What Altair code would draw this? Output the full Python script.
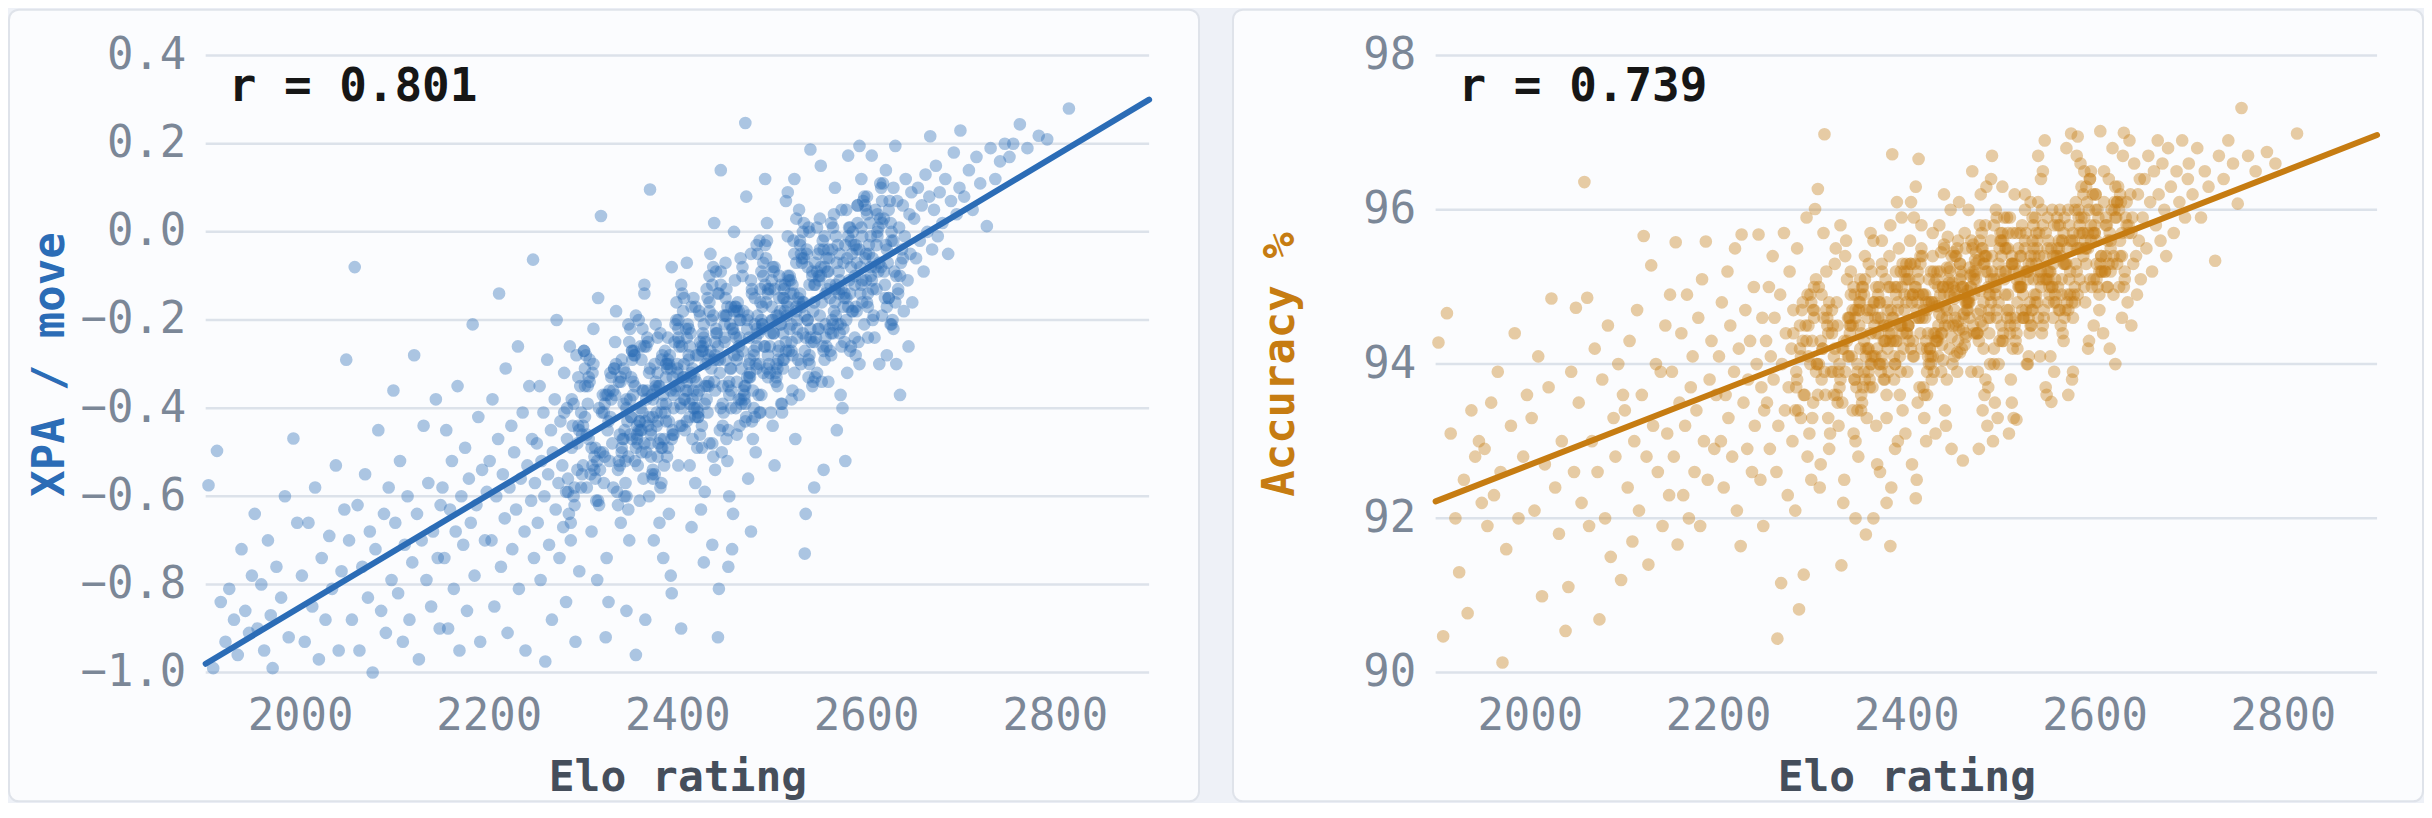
import altair as alt
import pandas as pd

# ---- data (Elo, XPA per move, accuracy %) ----
ELO = [
    1903, 1908, 1912, 1916, 1921, 1925, 1930, 1934, 1938, 1942, 1946, 1949,
    1952, 1955, 1959, 1962, 1966, 1969, 1971, 1975, 1980, 1984, 1988, 1993, 1997,
    2002, 2005, 2009, 2013, 2016, 2020, 2023, 2027, 2031, 2034, 2038, 2041, 2044, 2047, 2049,
    2052, 2055, 2058, 2061, 2063, 2066, 2069, 2072, 2074, 2077, 2080, 2083, 2086, 2089, 2091, 2094, 2097, 2099,
    2101, 2104, 2106, 2109, 2111, 2114, 2116, 2119, 2121, 2124, 2126, 2129, 2131, 2134, 2136, 2139, 2141, 2144, 2146, 2148, 2149,
    2151, 2153, 2155, 2157, 2159, 2161, 2163, 2165, 2167, 2169, 2171, 2173, 2175, 2177, 2179, 2181, 2183, 2185, 2187, 2189, 2191, 2193, 2196, 2198,
    2201, 2203, 2204, 2206, 2208, 2210, 2211, 2213, 2215, 2217, 2218, 2220, 2222, 2224, 2225, 2227, 2229, 2231, 2232, 2234, 2236, 2238, 2239, 2241, 2243, 2245, 2246, 2247, 2248, 2249,
    2251, 2252, 2254, 2255, 2256, 2258, 2259, 2260, 2262, 2263, 2264, 2266, 2267, 2268, 2270, 2271, 2272, 2274, 2275, 2276,
    2278, 2279, 2280, 2282, 2283, 2284, 2286, 2287, 2288, 2290, 2291, 2292, 2294, 2295, 2296, 2297, 2298, 2299,
    2300, 2307, 2314, 2321, 2328, 2335, 2342, 2349, 2306, 2313, 2320, 2327, 2334, 2341, 2348, 2305, 2312, 2319, 2326, 2333,
    2340, 2347, 2304, 2311, 2318, 2325, 2332, 2339, 2346, 2303, 2310, 2317, 2324, 2331, 2338, 2345, 2302, 2309, 2316, 2323,
    2330, 2337, 2344, 2301, 2308, 2315, 2322, 2329, 2336, 2343, 2302, 2346,
    2350, 2363, 2376, 2389, 2352, 2365, 2378, 2391, 2354, 2367, 2380, 2393, 2356, 2369, 2382, 2395, 2358, 2371, 2384, 2397,
    2360, 2373, 2386, 2399, 2362, 2375, 2388, 2351, 2364, 2377, 2390, 2353, 2366, 2379, 2392, 2355, 2368, 2381, 2394, 2357,
    2370, 2383, 2396, 2359, 2372, 2385, 2398, 2361, 2374, 2387, 2352, 2356, 2361, 2365, 2370, 2374, 2379, 2383, 2388, 2394,
    2400, 2417, 2434, 2401, 2418, 2435, 2402, 2419, 2436, 2403, 2420, 2437, 2404, 2421, 2438, 2405, 2422, 2439, 2406, 2423,
    2440, 2407, 2424, 2441, 2408, 2425, 2442, 2409, 2426, 2443, 2410, 2427, 2444, 2411, 2428, 2445, 2412, 2429, 2446, 2413,
    2430, 2447, 2414, 2431, 2448, 2415, 2432, 2449, 2416, 2433, 2401, 2404, 2407, 2410, 2413, 2416, 2419, 2422, 2425, 2428,
    2431, 2434, 2437, 2440, 2443, 2446,
    2450, 2469, 2488, 2457, 2476, 2495, 2464, 2483, 2452, 2471, 2490, 2459, 2478, 2497, 2466, 2485, 2454, 2473, 2492, 2461,
    2480, 2499, 2468, 2487, 2456, 2475, 2494, 2463, 2482, 2451, 2470, 2489, 2458, 2477, 2496, 2465, 2484, 2453, 2472, 2491,
    2460, 2479, 2498, 2467, 2486, 2455, 2474, 2493, 2462, 2481, 2451, 2454, 2457, 2460, 2463, 2466, 2469, 2472, 2475, 2478,
    2481, 2484, 2487, 2490, 2493, 2496,
    2500, 2523, 2546, 2519, 2542, 2515, 2538, 2511, 2534, 2507, 2530, 2503, 2526, 2549, 2522, 2545, 2518, 2541, 2514, 2537,
    2510, 2533, 2506, 2529, 2502, 2525, 2548, 2521, 2544, 2517, 2540, 2513, 2536, 2509, 2532, 2505, 2528, 2501, 2524, 2547,
    2520, 2543, 2516, 2539, 2512, 2535, 2508, 2531, 2504, 2527, 2503, 2508, 2512, 2517, 2521, 2526, 2530, 2535, 2540, 2545,
    2550, 2579, 2558, 2587, 2566, 2595, 2574, 2553, 2582, 2561, 2590, 2569, 2598, 2577, 2556, 2585, 2564, 2593, 2572, 2551,
    2580, 2559, 2588, 2567, 2596, 2575, 2554, 2583, 2562, 2591, 2570, 2599, 2578, 2557, 2586, 2565, 2594, 2573, 2552, 2581,
    2560, 2589, 2568, 2597, 2576, 2555, 2584, 2563, 2592, 2571, 2556, 2568, 2581, 2593,
    2600, 2601, 2602, 2604, 2605, 2606, 2607, 2609, 2610, 2611, 2612, 2614, 2615, 2616, 2617, 2619, 2620, 2621, 2622, 2624,
    2625, 2626, 2627, 2629, 2630, 2631, 2632, 2634, 2635, 2636, 2637, 2639, 2640, 2641, 2642, 2644, 2645, 2646, 2647, 2648,
    2649, 2603,
    2651, 2653, 2655, 2657, 2659, 2661, 2663, 2665, 2667, 2668, 2670, 2672, 2674, 2676, 2678, 2681, 2684, 2687, 2690, 2693, 2696, 2699,
    2700, 2704, 2709, 2713, 2717, 2721, 2728, 2732, 2737, 2742, 2747,
    2752, 2756, 2763, 2771, 2783, 2792,
    2815,
]

XPA = [
    -0.575, -0.99, -0.497, -0.84, -0.93, -0.81, -0.88, -0.96, -0.72, -0.86, -0.91, -0.78,
    -0.64, -0.90, -0.80, -0.95, -0.70, -0.87, -0.99, -0.76, -0.83, -0.60, -0.92, -0.469, -0.66,
    -0.78, -0.93, -0.66, -0.85, -0.58, -0.97, -0.74, -0.88, -0.69, -0.81, -0.53, -0.95, -0.77, -0.63, -0.29,
    -0.70, -0.88, -0.08, -0.62, -0.95, -0.76, -0.55, -0.83, -0.68, -1.0, -0.72, -0.45, -0.86, -0.64, -0.91, -0.58, -0.79, -0.36,
    -0.66, -0.82, -0.52, -0.93, -0.71, -0.60, -0.88, -0.75, -0.28, -0.64, -0.97, -0.70, -0.44, -0.79, -0.57, -0.85, -0.68, -0.38, -0.74, -0.90, -0.62,
    -0.58, -0.74, -0.45, -0.90, -0.63, -0.52, -0.81, -0.68, -0.35, -0.95, -0.60, -0.71, -0.49, -0.86, -0.56, -0.66, -0.21, -0.78, -0.62, -0.42, -0.93, -0.54, -0.70, -0.59,
    -0.52, -0.70, -0.38, -0.85, -0.60, -0.47, -0.14, -0.76, -0.55, -0.65, -0.31, -0.91, -0.58, -0.44, -0.72, -0.50, -0.63, -0.26, -0.81, -0.56, -0.41, -0.68, -0.95, -0.53, -0.35, -0.61, -0.47, -0.063, -0.74, -0.57,
    -0.48, -0.66, -0.35, -0.79, -0.52, -0.41, -0.60, -0.975, -0.29, -0.55, -0.71, -0.45, -0.88, -0.50, -0.38, -0.63, -0.20, -0.57, -0.74, -0.43,
    -0.53, -0.67, -0.32, -0.84, -0.47, -0.59, -0.26, -0.70, -0.49, -0.39, -0.62, -0.93, -0.54, -0.44, -0.77, -0.35, -0.58, -0.46,
    -0.44, -0.29, -0.61, -0.37, -0.52, -0.18, -0.47, -0.70, -0.33, -0.56, -0.41, -0.84, -0.25, -0.49, -0.63, -0.39, -0.54, 0.036, -0.45, -0.31,
    -0.66, -0.43, -0.58, -0.22, -0.50, -0.74, -0.36, -0.46, -0.60, -0.28, -0.53, -0.40, -0.92, -0.48, -0.34, -0.57, -0.42, -0.68, -0.15, -0.51,
    -0.38, -0.62, -0.45, -0.27, -0.55, -0.79, -0.41, -0.32, -0.59, -0.47, -0.35, -0.86,
    -0.38, -0.22, -0.55, -0.31, -0.47, -0.12, -0.41, -0.64, -0.27, -0.50, -0.35, -0.78, -0.19, -0.44, -0.58, -0.33, -0.48, 0.096, -0.39, -0.25,
    -0.61, -0.37, -0.53, -0.16, -0.45, -0.70, -0.30, -0.42, -0.56, -0.21, -0.49, -0.34, -0.88, -0.43, -0.28, -0.52, -0.36, -0.66, -0.08, -0.46,
    -0.32, -0.57, -0.40, -0.20, -0.51, -0.74, -0.36, -0.26, -0.54, -0.41, -0.29, -0.96, -0.45, -0.14, -0.60, -0.38, -0.24, -0.49, -0.33, -0.82,
    -0.31, -0.15, -0.48, -0.24, -0.40, -0.05, -0.35, -0.57, -0.20, -0.44, -0.28, -0.71, -0.12, -0.37, -0.51, -0.26, -0.42, 0.02, -0.33, -0.18,
    -0.54, -0.30, -0.46, -0.09, -0.38, -0.63, -0.23, -0.36, -0.49, -0.14, -0.43, -0.27, -0.81, -0.36, -0.21, -0.45, -0.29, -0.59, 0.14, -0.39,
    -0.25, -0.50, -0.33, -0.13, -0.44, -0.67, -0.29, -0.19, -0.47, -0.34, -0.22, -0.90, -0.38, -0.07, -0.53, -0.31, -0.17, -0.42, -0.26, -0.75,
    -0.35, -0.10, -0.48, -0.28, -0.92, -0.40,
    -0.24, -0.08, -0.41, -0.17, -0.33, 0.02, -0.28, -0.50, -0.13, -0.37, -0.21, -0.64, -0.05, -0.30, -0.44, -0.19, -0.35, 0.08, -0.26, -0.11,
    -0.47, -0.23, -0.39, -0.02, -0.31, -0.56, -0.16, -0.29, -0.42, -0.07, -0.36, -0.20, -0.72, -0.29, -0.14, -0.38, -0.22, -0.52, 0.247, -0.32,
    -0.18, -0.43, -0.26, -0.06, -0.37, -0.60, -0.22, -0.12, -0.40, -0.27, -0.15, -0.76, -0.31, 0.00, -0.46, -0.24, -0.10, -0.35, -0.19, -0.68,
    -0.28, -0.03, -0.41, -0.21, 0.12, -0.33,
    -0.17, -0.02, -0.33, -0.10, -0.25, 0.07, -0.20, -0.41, -0.06, -0.29, -0.14, -0.53, 0.03, -0.22, -0.36, -0.12, -0.27, 0.187, -0.18, -0.04,
    -0.39, -0.16, -0.31, 0.05, -0.23, -0.47, -0.09, -0.21, -0.34, -0.01, -0.28, -0.13, -0.64, -0.21, -0.07, -0.30, -0.15, -0.44, 0.12, -0.24,
    -0.11, -0.35, -0.19, 0.01, -0.29, -0.73, -0.15, -0.05, -0.32, -0.20, -0.08, -0.26, -0.23, 0.09, -0.38, -0.17, -0.03, -0.27, -0.12, -0.58,
    -0.10, 0.05, -0.26, -0.03, -0.18, 0.12, -0.13, -0.34, 0.01, -0.22, -0.07, -0.45, 0.08, -0.15, -0.29, -0.05, -0.20, 0.195, -0.11, 0.03,
    -0.32, -0.09, -0.24, 0.10, -0.16, -0.40, -0.02, -0.14, -0.27, 0.06, -0.21, -0.06, -0.52, -0.14, 0.00, -0.23, -0.08, -0.37, 0.15, -0.17,
    -0.04, -0.28, -0.12, 0.07, -0.22, -0.54, -0.08, 0.02, -0.25, -0.13, -0.01, -0.19, 0.173, -0.30,
    -0.05, 0.08, -0.17, 0.02, -0.10, 0.173, -0.06, -0.24, 0.05, -0.13, 0.00, -0.30, 0.11, -0.08, -0.19, 0.03, -0.12, 0.14, -0.04, -0.15,
    0.07, -0.21, -0.02, 0.10, -0.09, 0.195, -0.30, -0.14, 0.01, -0.37, -0.07, 0.06, -0.18, -0.01, 0.12, -0.11, -0.26, 0.04, -0.05, 0.09,
    -0.16, -0.03,
    0.03, -0.06, 0.10, -0.02, 0.06, -0.09, 0.13, 0.00, 0.08, 0.217, -0.04, 0.05, 0.15, -0.01, 0.09, 0.02, 0.12, -0.05, 0.07, 0.18, 0.04, 0.10,
    0.23, 0.08, 0.14, 0.05, 0.17, 0.11, 0.013, 0.19, 0.12, 0.16, 0.20,
    0.17, 0.20, 0.244, 0.19, 0.218, 0.21,
    0.28,
]

ACC = [
    94.28, 90.47, 94.66, 93.1, 92.0, 91.3, 92.5, 90.77, 93.4, 92.8, 93.0, 92.2,
    92.9, 91.9, 93.5, 92.3, 93.9, 92.6, 90.13, 91.6, 93.2, 94.4, 92.0, 92.8, 93.6,
    93.3, 92.1, 94.1, 90.99, 92.7, 93.7, 94.85, 92.4, 91.8, 93.0, 90.54, 91.11, 93.9, 92.6, 94.73,
    93.5, 92.2, 96.36, 94.86, 91.9, 93.0, 94.2, 92.6, 90.69, 93.8, 92.0, 94.5, 91.5, 93.3, 92.8, 94.0, 91.2, 93.6,
    93.4, 92.4, 94.3, 91.7, 93.0, 94.7, 92.1, 93.6, 95.66, 92.8, 91.4, 95.28, 93.2, 94.0, 92.6, 93.9, 91.9, 94.5, 93.1, 92.3, 94.9,
    93.9, 92.8, 95.58, 91.66, 93.5, 94.4, 92.3, 93.2, 94.9, 92.0, 93.7, 94.1, 92.6, 93.4, 94.6, 91.9, 95.1, 93.0, 95.59, 92.5, 93.8, 94.3, 92.9, 93.6,
    94.1, 93.0, 94.8, 92.4, 93.6, 95.2, 93.3, 94.5, 92.8, 93.9, 95.5, 92.1, 94.2, 91.64, 95.68, 93.5, 94.7, 92.9, 93.8, 94.3, 92.6, 95.0, 93.2, 94.0, 95.68, 92.5, 93.7, 94.6, 91.9, 93.4,
    94.3, 93.5, 95.0, 92.9, 94.1, 95.4, 93.8, 94.6, 92.6, 90.44, 93.2, 94.9, 91.16, 94.0, 95.7, 93.4, 94.4, 92.3, 93.7, 95.2,
    94.2, 93.0, 94.7, 92.1, 93.9, 95.5, 90.82, 94.5, 93.3, 94.8, 91.27, 93.6, 95.9, 92.8, 94.1, 93.1, 94.9, 92.5,
    94.3, 95.0, 93.6, 94.7, 93.2, 95.4, 94.1, 92.8, 96.27, 96.98, 93.9, 94.5, 92.5, 95.2, 93.4, 94.0, 95.7, 93.1, 94.8, 92.2,
    94.4, 93.7, 95.1, 94.2, 92.9, 95.5, 93.5, 94.6, 93.0, 96.01, 94.9, 93.3, 95.3, 91.39, 94.1, 93.8, 95.0, 92.7, 94.5, 93.6,
    95.8, 94.3, 93.1, 94.7, 92.4, 95.2, 93.9, 94.0, 95.6, 93.4, 94.6, 92.0,
    94.5, 95.2, 93.8, 94.9, 93.4, 95.6, 94.3, 93.0, 95.0, 94.1, 94.7, 93.6, 95.4, 92.7, 94.4, 95.9, 93.3, 94.8, 92.4, 94.2,
    95.3, 93.9, 94.6, 93.1, 95.7, 94.0, 92.9, 95.1, 93.7, 94.5, 96.1, 93.5, 94.8, 92.2, 95.5, 94.3, 93.2, 95.0, 93.9, 91.79,
    94.6, 95.8, 93.4, 94.2, 92.6, 96.72, 94.9, 93.8, 95.3, 94.1, 93.6, 95.1, 94.7, 92.0, 94.4, 95.6, 93.3, 91.64, 94.0, 95.2,
    94.8, 95.4, 94.1, 95.1, 93.7, 95.8, 94.5, 93.3, 95.2, 94.3, 94.9, 93.9, 95.6, 93.0, 94.6, 96.1, 93.6, 95.0, 92.7, 94.4,
    95.5, 94.1, 94.8, 93.4, 95.9, 94.2, 93.2, 95.3, 94.0, 94.7, 96.3, 93.8, 95.0, 92.5, 95.7, 94.5, 93.5, 95.2, 94.2, 96.66,
    94.8, 96.0, 93.7, 94.4, 92.9, 95.4, 95.1, 94.0, 95.5, 94.3, 93.9, 95.3, 94.9, 92.26, 94.6, 95.8, 93.6, 94.7, 94.2, 95.4,
    93.1, 95.0, 94.4, 96.2, 93.8, 94.9,
    95.0, 95.6, 94.4, 95.3, 93.9, 96.0, 94.7, 93.6, 95.4, 94.5, 95.1, 94.2, 95.8, 93.3, 94.8, 96.3, 93.9, 95.2, 93.0, 94.6,
    95.7, 94.3, 95.0, 93.7, 96.1, 94.4, 93.5, 95.5, 94.2, 94.9, 96.5, 94.0, 95.2, 92.9, 95.9, 94.7, 93.8, 95.4, 94.4, 96.7,
    95.0, 96.2, 94.0, 94.6, 93.2, 95.6, 95.3, 94.2, 95.7, 94.5, 94.1, 95.5, 95.1, 92.75, 94.8, 96.0, 93.9, 94.9, 94.4, 95.6,
    93.4, 95.2, 94.6, 96.4, 94.0, 95.1,
    95.2, 95.8, 94.6, 95.5, 94.1, 96.2, 94.9, 93.8, 95.6, 94.7, 95.3, 94.4, 96.0, 93.6, 95.0, 96.5, 94.2, 95.4, 93.3, 94.8,
    95.9, 94.5, 95.2, 94.0, 96.3, 94.6, 93.7, 95.7, 94.4, 95.1, 96.7, 94.2, 95.4, 93.1, 96.1, 94.9, 94.0, 95.6, 94.6, 96.9,
    95.2, 96.4, 94.3, 94.8, 93.5, 95.8, 95.5, 94.4, 95.9, 94.7, 94.3, 95.7, 95.3, 93.28, 95.0, 96.2, 94.1, 95.1, 94.6, 95.8,
    95.5, 96.0, 94.9, 95.7, 94.4, 96.4, 95.2, 94.1, 96.95, 95.0, 95.6, 94.7, 96.2, 93.9, 95.3, 96.6, 94.5, 95.7, 93.6, 95.1,
    96.1, 94.8, 95.4, 94.3, 96.5, 96.99, 93.51, 95.9, 94.7, 95.3, 96.8, 94.5, 95.6, 93.9, 96.3, 95.1, 94.3, 95.8, 94.9, 96.7,
    95.4, 96.5, 94.6, 95.0, 93.8, 96.0, 95.7, 94.7, 96.1, 94.9, 94.6, 95.9, 95.5, 94.2,
    95.7, 96.2, 95.1, 95.9, 94.7, 97.02, 95.4, 94.4, 96.5, 95.2, 95.8, 95.0, 96.4, 94.2, 95.5, 96.8, 94.9, 96.0, 94.0, 95.3,
    96.3, 95.0, 95.6, 94.6, 96.7, 97.0, 95.2, 96.1, 94.8, 95.7, 96.9, 94.5, 95.9, 95.3, 96.6, 95.4, 94.9, 96.2, 95.6, 96.4,
    95.1, 96.0,
    95.9, 96.4, 95.5, 96.7, 96.1, 95.2, 96.5, 95.8, 96.9, 96.2, 95.6, 96.6, 96.0, 95.4, 96.8, 96.3, 95.7, 96.5, 96.1, 96.9, 95.9, 96.4,
    96.6, 96.2, 96.8, 95.9, 96.5, 96.3, 95.34, 96.7, 96.4, 96.9, 96.6,
    96.08, 97.32, 96.7, 96.5, 96.75, 96.6,
    96.99,
]

# extra players in the dense middle of the cloud
CORE_ELO = [
    2280, 2291, 2302, 2313, 2324, 2285, 2296, 2307, 2318, 2329, 2290, 2301, 2312, 2323, 2284, 2295, 2306, 2317, 2328, 2289,
    2300, 2311, 2322, 2283, 2294, 2305, 2316, 2327, 2288, 2299, 2310, 2321, 2282, 2293, 2304, 2315, 2326, 2287, 2298, 2309,
    2330, 2341, 2352, 2363, 2374, 2335, 2346, 2357, 2368, 2379, 2340, 2351, 2362, 2373, 2334, 2345, 2356, 2367, 2378, 2339,
    2350, 2361, 2372, 2333, 2344, 2355, 2366, 2377, 2338, 2349, 2360, 2371, 2332, 2343, 2354, 2365, 2376, 2337, 2348, 2359,
    2380, 2391, 2402, 2413, 2424, 2385, 2396, 2407, 2418, 2429, 2390, 2401, 2412, 2423, 2384, 2395, 2406, 2417, 2428, 2389,
    2400, 2411, 2422, 2383, 2394, 2405, 2416, 2427, 2388, 2399, 2410, 2421, 2382, 2393, 2404, 2415, 2426, 2387, 2398, 2409,
    2430, 2441, 2452, 2463, 2474, 2435, 2446, 2457, 2468, 2479, 2440, 2451, 2462, 2473, 2434, 2445, 2456, 2467, 2478, 2439,
    2450, 2461, 2472, 2433, 2444, 2455, 2466, 2477, 2438, 2449, 2460, 2471, 2432, 2443, 2454, 2465, 2476, 2437, 2448, 2459,
    2480, 2491, 2502, 2513, 2524, 2485, 2496, 2507, 2518, 2529, 2490, 2501, 2512, 2523, 2484, 2495, 2506, 2517, 2528, 2489,
    2500, 2511, 2522, 2483, 2494, 2505, 2516, 2527, 2488, 2499, 2510, 2521, 2482, 2493, 2504, 2515, 2526, 2487, 2498, 2509,
    2530, 2541, 2552, 2563, 2574, 2535, 2546, 2557, 2568, 2579, 2540, 2551, 2562, 2573, 2534, 2545, 2556, 2567, 2578, 2539,
    2550, 2561, 2572, 2533, 2544, 2555, 2566, 2577, 2538, 2549, 2560, 2571, 2532, 2543, 2554, 2565, 2576, 2537, 2548, 2559,
    2580, 2591, 2602, 2613, 2624, 2585, 2596, 2607, 2618, 2629, 2590, 2601, 2612, 2623, 2584, 2595, 2606, 2617, 2628, 2589,
    2600, 2611, 2622, 2583, 2594, 2605, 2616, 2627, 2588, 2599,
    2340, 2371, 2352, 2383, 2364, 2345, 2376, 2357, 2388, 2369, 2350, 2381, 2362, 2343, 2374, 2355, 2386, 2367, 2348, 2379,
    2360, 2341, 2372, 2353, 2384, 2365, 2346, 2377, 2358, 2389, 2370, 2351, 2382, 2363,
    2390, 2421, 2402, 2433, 2414, 2395, 2426, 2407, 2438, 2419, 2400, 2431, 2412, 2393, 2424, 2405, 2436, 2417, 2398, 2429,
    2410, 2391, 2422, 2403, 2434, 2415, 2396, 2427, 2408, 2439, 2420, 2401, 2432, 2413,
    2440, 2471, 2452, 2483, 2464, 2445, 2476, 2457, 2488, 2469, 2450, 2481, 2462, 2443, 2474, 2455, 2486, 2467, 2448, 2479,
    2460, 2441, 2472, 2453, 2484, 2465, 2446, 2477, 2458, 2489, 2470, 2451, 2482, 2463,
    2490, 2521, 2502, 2533, 2514, 2495, 2526, 2507, 2538, 2519, 2500, 2531, 2512, 2493, 2524, 2505, 2536, 2517, 2498, 2529,
    2510, 2491, 2522, 2503, 2534, 2515, 2496, 2527, 2508, 2539, 2520, 2501, 2532, 2513,
    2540, 2571, 2552, 2583, 2564, 2545, 2576, 2557, 2588, 2569, 2550, 2581, 2562, 2543, 2574, 2555, 2586, 2567, 2548, 2579,
    2560, 2541, 2572, 2553, 2584, 2565, 2546, 2577, 2558, 2589, 2570, 2551, 2582, 2563,
    2590, 2621, 2602, 2633, 2614, 2595, 2626, 2607, 2638, 2619, 2600, 2631, 2612, 2593, 2624, 2605, 2636, 2617, 2598, 2629,
    2610, 2591, 2622, 2603, 2634, 2615, 2596, 2627, 2608, 2639, 2620, 2601, 2632, 2613,
]

CORE_XPA = [
    -0.41, -0.58, -0.31, -0.49, -0.37, -0.64, -0.45, -0.34, -0.54, -0.42, -0.60, -0.27, -0.51, -0.39, -0.56, -0.33, -0.47, -0.62, -0.36, -0.44,
    -0.53, -0.30, -0.57, -0.40, -0.48, -0.35, -0.61, -0.43, -0.38, -0.55, -0.32, -0.50, -0.59, -0.28, -0.46, -0.52, -0.37, -0.66, -0.41, -0.49,
    -0.33, -0.50, -0.27, -0.41, -0.56, -0.30, -0.38, -0.47, -0.24, -0.51, -0.34, -0.42, -0.29, -0.55, -0.37, -0.32, -0.49, -0.26, -0.44, -0.53,
    -0.22, -0.40, -0.46, -0.31, -0.60, -0.35, -0.43, -0.35, -0.52, -0.25, -0.43, -0.31, -0.58, -0.39, -0.28, -0.48, -0.36, -0.54, -0.21, -0.45,
    -0.48, -0.30, -0.25, -0.42, -0.19, -0.37, -0.46, -0.15, -0.33, -0.39, -0.24, -0.53, -0.28, -0.36, -0.28, -0.45, -0.18, -0.36, -0.24, -0.51,
    -0.32, -0.21, -0.41, -0.29, -0.47, -0.14, -0.38, -0.26, -0.43, -0.20, -0.34, -0.49, -0.23, -0.31, -0.40, -0.17, -0.44, -0.27, -0.35, -0.22,
    -0.30, -0.22, -0.47, -0.18, -0.33, -0.27, -0.09, -0.40, -0.31, -0.13, -0.36, -0.19, -0.24, -0.42, -0.16, -0.29, -0.21, -0.38, -0.11, -0.34,
    -0.25, -0.17, -0.43, -0.28, -0.14, -0.37, -0.20, -0.32, -0.08, -0.41, -0.23, -0.35, -0.15, -0.26, -0.45, -0.18, -0.30, -0.12, -0.39, -0.22,
    -0.36, -0.10, -0.23, -0.15, -0.32, -0.05, -0.28, -0.19, -0.11, -0.37, -0.22, -0.08, -0.31, -0.14, -0.26, -0.02, -0.35, -0.17, -0.29, -0.09,
    -0.20, -0.39, -0.12, -0.24, -0.06, -0.33, -0.16, -0.24, -0.16, -0.41, -0.12, -0.27, -0.21, -0.03, -0.34, -0.25, -0.07, -0.30, -0.13, -0.18,
    -0.02, -0.22, -0.10, -0.28, 0.05, -0.19, -0.07, -0.24, -0.01, -0.15, -0.30, -0.04, -0.12, -0.21, 0.02, -0.25, -0.08, -0.16, -0.03, -0.29,
    -0.11, -0.06, -0.23, 0.00, -0.18, -0.27, 0.04, -0.14, -0.20, -0.05, -0.34, -0.09, -0.17, -0.09, -0.26, 0.01, -0.17, -0.05, -0.32, -0.13,
    -0.06, 0.02, -0.24, -0.09, 0.05, -0.18, -0.01, -0.13, 0.11, -0.22, -0.04, -0.16, 0.04, -0.07, -0.26, 0.01, -0.11, 0.07, -0.20, -0.03,
    -0.11, -0.03, -0.28, 0.01, -0.14, -0.08, 0.10, -0.21, -0.12, 0.06,
    -0.33, -0.48, -0.27, -0.41, -0.36, -0.52, -0.30, -0.44, -0.39, -0.25, -0.46, -0.35, -0.50, -0.31, -0.42, -0.28, -0.47, -0.38, -0.51, -0.32,
    -0.43, -0.29, -0.45, -0.37, -0.49, -0.26, -0.40, -0.34, -0.53, -0.30, -0.42, -0.33, -0.47, -0.36,
    -0.29, -0.40, -0.26, -0.35, -0.23, -0.46, -0.27, -0.33, -0.19, -0.42, -0.30, -0.38, -0.22, -0.36, -0.25, -0.44, -0.31, -0.40, -0.21, -0.35,
    -0.24, -0.43, -0.28, -0.39, -0.18, -0.32, -0.37, -0.23, -0.45, -0.29, -0.34, -0.20, -0.41, -0.26,
    -0.25, -0.38, -0.19, -0.30, -0.16, -0.32, -0.24, -0.36, -0.13, -0.27, -0.21, -0.40, -0.17, -0.29, -0.20, -0.34, -0.23, -0.20, -0.35, -0.14,
    -0.28, -0.23, -0.39, -0.17, -0.31, -0.26, -0.12, -0.33, -0.22, -0.37, -0.18, -0.29, -0.15, -0.34,
    -0.17, -0.25, -0.09, -0.23, -0.12, -0.31, -0.18, -0.27, -0.08, -0.22, -0.11, -0.30, -0.15, -0.26, -0.05, -0.19, -0.24, -0.10, -0.32, -0.16,
    -0.21, -0.07, -0.28, -0.13, -0.16, -0.27, -0.13, -0.22, -0.10, -0.33, -0.14, -0.20, -0.06, -0.29,
    0.00, -0.14, -0.08, -0.27, -0.04, -0.16, -0.07, -0.21, -0.10, -0.07, -0.22, -0.01, -0.15, -0.10, -0.26, -0.04, -0.18, -0.13, 0.01, -0.20,
    -0.09, -0.24, -0.05, -0.16, -0.02, -0.21, -0.12, -0.25, -0.06, -0.17, -0.03, -0.19, -0.11, -0.23,
    -0.18, -0.03, -0.14, 0.07, -0.07, -0.12, 0.02, -0.20, -0.04, -0.09, 0.05, -0.16, -0.01, -0.04, -0.15, -0.01, -0.10, 0.02, -0.21, -0.02,
    -0.08, 0.06, -0.17, -0.05, -0.13, 0.03, -0.11, 0.00, -0.19, -0.06, -0.15, 0.04, -0.10, 0.01,
]

CORE_ACC = [
    94.4, 93.6, 94.7, 93.9, 94.2, 93.4, 94.5, 94.0, 94.8, 93.7, 94.3, 93.5, 94.6, 94.1, 93.8, 94.9, 93.6, 94.4, 93.9, 94.7,
    93.3, 94.2, 94.5, 93.7, 94.3, 94.0, 94.6, 93.5, 94.1, 94.8, 93.8, 94.4, 93.4, 94.5, 93.9, 94.7, 93.6, 94.2, 94.0, 94.3,
    93.8, 94.9, 94.4, 94.1, 95.2, 93.9, 94.7, 94.2, 95.0, 93.6, 94.5, 94.8, 94.0, 94.6, 94.3, 94.9, 93.8, 94.4, 95.1, 94.1,
    94.7, 93.7, 94.8, 94.2, 95.0, 93.9, 94.5, 94.3, 94.6, 94.7, 93.9, 95.0, 94.2, 94.5, 93.7, 94.8, 94.3, 95.1, 94.0, 94.6,
    94.2, 94.8, 94.5, 95.1, 94.0, 94.6, 95.3, 94.3, 94.9, 93.9, 95.0, 94.4, 95.2, 94.1, 94.7, 94.5, 94.8, 94.9, 94.1, 95.2,
    94.4, 94.7, 93.9, 95.0, 94.5, 95.3, 94.2, 94.8, 94.0, 95.1, 94.6, 94.3, 95.4, 94.1, 94.9, 94.4, 95.2, 93.8, 94.7, 95.0,
    95.05, 94.75, 94.95, 94.35, 95.45, 94.65, 95.25, 94.15, 95.15, 94.55, 95.55, 94.85, 94.25, 95.35, 94.75, 95.05, 94.45, 95.25, 94.95, 94.05,
    95.45, 94.65, 95.15, 94.35, 95.65, 94.55, 94.85, 95.35, 94.25, 95.05, 94.45, 95.55, 94.75, 95.25, 94.15, 94.95, 94.65, 95.45, 94.35, 95.15,
    95.5, 95.2, 94.3, 95.7, 94.9, 95.4, 94.6, 95.9, 94.8, 95.1, 95.6, 94.5, 95.3, 94.7, 95.8, 95.0, 95.5, 94.4, 95.2, 94.9,
    95.7, 94.6, 95.4, 95.3, 95.0, 95.2, 94.6, 95.7, 94.9, 95.5, 94.4, 95.4, 94.8, 95.8, 95.1, 94.5, 95.6, 95.0, 95.3, 94.7,
    94.6, 95.7, 95.2, 96.0, 94.9, 95.5, 94.7, 95.8, 95.3, 95.0, 96.1, 94.8, 95.6, 95.1, 95.9, 94.5, 95.4, 95.7, 94.9, 95.5,
    95.2, 95.8, 94.7, 95.3, 96.0, 95.0, 95.6, 94.6, 95.7, 95.1, 95.9, 94.8, 95.4, 95.2, 95.5, 95.6, 94.8, 95.9, 95.1, 95.4,
    95.3, 96.3, 95.6, 95.0, 96.1, 95.5, 95.8, 95.2, 96.0, 95.7, 94.8, 96.2, 95.4, 95.9, 95.1, 96.4, 95.3, 95.6, 96.1, 95.0,
    95.8, 95.2, 96.3, 95.5, 96.0, 94.9, 95.7, 95.4, 96.2, 95.1,
    94.6, 94.0, 94.9, 94.3, 94.7, 93.8, 94.5, 94.1, 95.0, 94.2, 94.8, 93.9, 94.4, 94.7, 94.1, 94.9, 94.3, 94.6, 93.9, 94.8,
    94.2, 94.5, 94.0, 95.0, 94.4, 94.1, 94.6, 93.8, 94.7, 94.3, 94.9, 94.2, 94.5, 94.0,
    94.3, 94.8, 94.5, 95.2, 94.6, 95.0, 94.1, 94.9, 94.4, 94.7, 95.3, 94.3, 94.8, 94.5, 95.1, 94.2, 94.9, 94.6, 95.2, 94.4,
    95.0, 94.7, 94.2, 95.1, 94.5, 95.3, 94.4, 94.8, 94.1, 95.0, 94.6, 95.2, 94.3, 94.9,
    94.9, 95.2, 94.6, 95.4, 94.8, 95.1, 94.4, 95.3, 94.7, 95.0, 94.5, 95.5, 94.9, 94.6, 95.1, 94.3, 95.2, 94.8, 95.4, 94.7,
    95.0, 94.5, 95.1, 94.5, 95.4, 94.8, 95.2, 94.3, 95.0, 94.6, 95.5, 94.7, 95.3, 94.4,
    94.8, 95.1, 95.7, 94.7, 95.2, 94.9, 95.5, 94.6, 95.3, 95.0, 95.6, 94.8, 95.4, 95.1, 94.6, 95.5, 94.9, 95.7, 94.8, 95.2,
    94.5, 95.4, 95.0, 95.6, 94.7, 95.3, 94.7, 95.2, 94.9, 95.6, 95.0, 95.4, 94.5, 95.3,
    95.2, 95.5, 95.0, 96.0, 95.4, 95.1, 95.6, 94.8, 95.7, 95.3, 95.9, 95.2, 95.5, 95.0, 95.6, 95.0, 95.9, 95.3, 95.7, 94.8,
    95.5, 95.1, 96.0, 95.2, 95.8, 94.9, 95.4, 95.7, 95.1, 95.9, 95.3, 95.6, 94.9, 95.8,
    95.5, 96.1, 95.3, 95.9, 95.6, 95.1, 96.0, 95.4, 96.2, 95.3, 95.7, 95.0, 95.9, 95.5, 96.1, 95.2, 95.8, 95.2, 95.7, 95.4,
    96.1, 95.5, 95.9, 95.0, 95.8, 95.3, 95.6, 96.2, 95.2, 95.7, 95.4, 96.0, 95.1, 95.8,
]

# fitted lines (end points)
FIT_ELO = [1900, 2900]
FIT_XPA = [-0.98, 0.30]
FIT_ACC = [92.22, 96.97]

R_LABELS = ["r = 0.801", "r = 0.739"]
X_TICKS = [2000, 2200, 2400, 2600, 2800]
XPA_TICKS = [-1.0, -0.8, -0.6, -0.4, -0.2, 0.0, 0.2, 0.4]
ACC_TICKS = [90, 92, 94, 96, 98]

n = min(len(ELO), len(XPA), len(ACC))
m = min(len(CORE_ELO), len(CORE_XPA), len(CORE_ACC))
pts = pd.DataFrame({
    "elo": ELO[:n] + CORE_ELO[:m],
    "xpa": XPA[:n] + CORE_XPA[:m],
    "acc": ACC[:n] + CORE_ACC[:m],
})
fit = pd.DataFrame({"elo": FIT_ELO, "xpa": FIT_XPA, "acc": FIT_ACC})

FONT = "DejaVu Sans Mono"
BLUE = "#2b6cb6"
ORANGE = "#c67c12"
LABEL = "#7b8797"
XTITLE = "#454e5b"
GRID = "#dce2ea"
CARD = "#fbfcfe"
BORDER = "#dfe3ea"
PAGE = "#eef1f7"

PW_L, PW_R, PH = 945, 943, 618


def panel(field, color, ydomain, yticks, yfmt, ytitle, rlabel, pw, card_l, card_r):
    xs = alt.Scale(domain=[1900, 2900], nice=False, zero=False)
    ys = alt.Scale(domain=ydomain, nice=False, zero=False)
    xaxis = alt.Axis(
        title="Elo rating", values=X_TICKS, format="d", grid=False, domain=False,
        ticks=False, labelPadding=22, labelFlush=False, zindex=2,
        titleX=pw / 2, titleY=118, titleBaseline="alphabetic",
        titleAlign="center", titleColor=XTITLE, titleFontSize=43,
    )
    yaxis = alt.Axis(
        title=ytitle, values=yticks, format=yfmt, grid=False, domain=False,
        ticks=False, labelPadding=20, zindex=2,
        titleX=-142, titleY=PH / 2, titleAngle=270,
        titleBaseline="alphabetic", titleAlign="center", titleColor=color,
    )
    card = alt.Chart(pd.DataFrame({"c": [0]})).mark_rect(
        fill=CARD, stroke=BORDER, strokeWidth=2, cornerRadius=10
    ).encode(
        x=alt.value(-card_l), x2=alt.value(card_r),
        y=alt.value(-46), y2=alt.value(747),
    )
    grid = alt.Chart(pd.DataFrame({field: yticks})).mark_rule(
        color=GRID, strokeWidth=2.5
    ).encode(
        y=alt.Y(f"{field}:Q", scale=ys, axis=yaxis),
        x=alt.value(0), x2=alt.value(pw),
    )
    points = alt.Chart(pts).mark_circle(size=160, opacity=0.38, color=color, strokeWidth=0).encode(
        x=alt.X("elo:Q", scale=xs, axis=xaxis),
        y=alt.Y(f"{field}:Q", scale=ys, axis=yaxis),
    )
    line = alt.Chart(fit).mark_line(color=color, strokeWidth=6, strokeCap="round").encode(
        x=alt.X("elo:Q", scale=xs, axis=xaxis),
        y=alt.Y(f"{field}:Q", scale=ys, axis=yaxis),
    )
    text = alt.Chart(pd.DataFrame({"t": [rlabel]})).mark_text(
        align="left", baseline="alphabetic", font=FONT, fontSize=46,
        fontWeight="bold", color="#161616",
    ).encode(
        x=alt.value(23),
        y=alt.value(45),
        text="t:N",
    )
    return alt.layer(card, grid, points, line, text).properties(width=pw, height=PH)


left_panel = panel("xpa", BLUE, [-1.0, 0.4], XPA_TICKS, ".1f", "XPA / move",
                   R_LABELS[0], PW_L, 197, 995)
right_panel = panel("acc", ORANGE, [90, 98], ACC_TICKS, "d", "Accuracy %",
                    R_LABELS[1], PW_R, 203, 989)

chart = (
    alt.hconcat(left_panel, right_panel, spacing=32)
    .properties(padding=0)
    .configure(background=PAGE, font=FONT)
    .configure_view(stroke=None, fill=None)
    .configure_axis(
        labelFont=FONT, labelFontSize=44, labelColor=LABEL,
        titleFont=FONT, titleFontSize=44, titleFontWeight="bold",
    )
)

chart.save("out.html", embed_options={"renderer": "svg", "actions": False})
